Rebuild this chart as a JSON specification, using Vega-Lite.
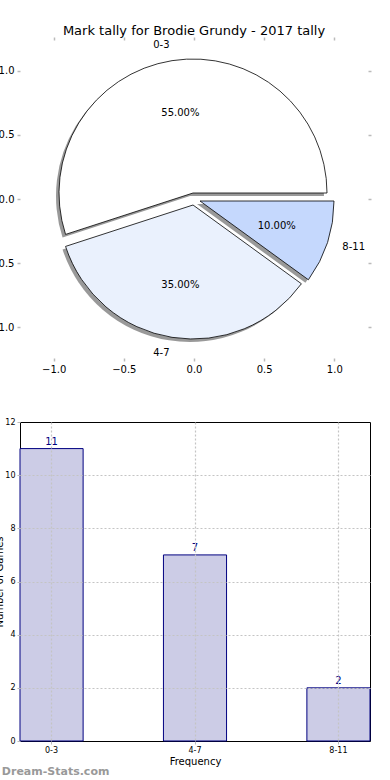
{
  "$schema": "https://vega.github.io/schema/vega-lite/v6.json",
  "padding": {"left": -11, "top": 25, "right": 0, "bottom": 0},
  "background": "white",
  "config": {"font": "DejaVu Sans", "view": {"stroke": null}},
  "datasets": {
    "tally": [
      {"range": "0-3", "count": 11, "share": 0.55},
      {"range": "4-7", "count": 7, "share": 0.35},
      {"range": "8-11", "count": 2, "share": 0.10}
    ]
  },
  "vconcat": [
    {
      "width": 348,
      "height": 318,
      "title": {"text": "Mark tally for Brodie Grundy - 2017 tally", "fontSize": 13, "fontWeight": "normal", "offset": -2},
      "data": {"name": "tally"},
      "transform": [
        {"stack": "count", "groupby": [], "sort": [{"field": "range", "order": "descending"}], "as": ["t0", "t1"]}
      ],
      "resolve": {"axis": {"x": "independent", "y": "independent"}},
      "layer": [
        {
          "mark": {"type": "point", "opacity": 0},
          "encoding": {
            "x": {"datum": 0, "type": "quantitative", "scale": {"domain": [-1.24, 1.24], "nice": false, "zero": false},
              "axis": {"orient": "bottom", "values": [-1, -0.5, 0, 0.5, 1], "format": ".1f", "domain": false, "grid": false, "tickColor": "#bbbbbb", "tickSize": 3, "tickWidth": 1.5, "labelFontSize": 10, "labelColor": "black", "labelPadding": 3, "title": null}},
            "y": {"datum": 0, "type": "quantitative", "scale": {"domain": [-1.24, 1.24], "nice": false, "zero": false},
              "axis": {"orient": "left", "values": [-1, -0.5, 0, 0.5, 1], "format": ".1f", "domain": false, "grid": false, "tickColor": "#bbbbbb", "tickSize": 3, "tickWidth": 1.5, "labelFontSize": 10, "labelColor": "black", "labelPadding": 3, "title": null}}
          }
        },
        {
          "mark": {"type": "point", "opacity": 0},
          "encoding": {
            "x": {"datum": 0, "type": "quantitative",
              "axis": {"orient": "top", "values": [-1, -0.5, 0, 0.5, 1], "domain": false, "grid": false, "labels": false, "tickColor": "#bbbbbb", "tickSize": 3, "tickWidth": 1.5, "title": null}},
            "y": {"datum": 0, "type": "quantitative",
              "axis": {"orient": "right", "values": [-1, -0.5, 0, 0.5, 1], "domain": false, "grid": false, "labels": false, "tickColor": "#bbbbbb", "tickSize": 3, "tickWidth": 1.5, "title": null}}
          }
        },
        {
          "transform": [{"filter": "datum.range == '0-3'"}],
          "mark": {"type": "arc", "radius": 134, "fill": "#808080", "opacity": 0.8, "xOffset": -4, "yOffset": -3},
          "encoding": {"theta": {"field": "t0", "type": "quantitative", "scale": {"domain": [0, 20], "range": [1.5708, 7.854]}}, "theta2": {"field": "t1"}}
        },
        {
          "transform": [{"filter": "datum.range == '4-7'"}],
          "mark": {"type": "arc", "radius": 134, "fill": "#808080", "opacity": 0.8, "xOffset": -4, "yOffset": 9},
          "encoding": {"theta": {"field": "t0", "type": "quantitative"}, "theta2": {"field": "t1"}}
        },
        {
          "transform": [{"filter": "datum.range == '8-11'"}],
          "mark": {"type": "arc", "radius": 134, "fill": "#808080", "opacity": 0.8, "xOffset": 3, "yOffset": 5},
          "encoding": {"theta": {"field": "t0", "type": "quantitative"}, "theta2": {"field": "t1"}}
        },
        {
          "transform": [{"filter": "datum.range == '0-3'"}],
          "mark": {"type": "arc", "radius": 134, "fill": "#ffffff", "stroke": "black", "strokeWidth": 0.8, "xOffset": -1, "yOffset": -6},
          "encoding": {"theta": {"field": "t0", "type": "quantitative"}, "theta2": {"field": "t1"}}
        },
        {
          "transform": [{"filter": "datum.range == '4-7'"}],
          "mark": {"type": "arc", "radius": 134, "fill": "#eaf1fd", "stroke": "black", "strokeWidth": 0.8, "xOffset": -1, "yOffset": 6},
          "encoding": {"theta": {"field": "t0", "type": "quantitative"}, "theta2": {"field": "t1"}}
        },
        {
          "transform": [{"filter": "datum.range == '8-11'"}],
          "mark": {"type": "arc", "radius": 134, "fill": "#c5d8fd", "stroke": "black", "strokeWidth": 0.8, "xOffset": 6, "yOffset": 2},
          "encoding": {"theta": {"field": "t0", "type": "quantitative"}, "theta2": {"field": "t1"}}
        },
        {
          "mark": {"type": "text", "radius": 87, "fontSize": 10, "color": "black"},
          "encoding": {
            "theta": {"field": "count", "type": "quantitative", "stack": true},
            "order": {"field": "range", "sort": "descending"},
            "text": {"field": "share", "type": "quantitative", "format": ".2%"}
          }
        },
        {
          "mark": {"type": "text", "radius": 156, "fontSize": 10, "color": "black", "align": {"expr": "datum.range == '8-11' ? 'left' : 'right'"}},
          "encoding": {
            "theta": {"field": "count", "type": "quantitative", "stack": true},
            "order": {"field": "range", "sort": "descending"},
            "text": {"field": "range", "type": "nominal"}
          }
        }
      ]
    },
    {
      "width": 350,
      "height": 319,
      "view": {"stroke": "black", "strokeWidth": 1},
      "title": {"text": "Dream-Stats.com", "orient": "bottom", "anchor": "start", "color": "#999999", "fontSize": 11, "fontWeight": "bold", "dx": 7, "offset": 0},
      "data": {"name": "tally"},
      "encoding": {
        "x": {"field": "range", "type": "nominal", "scale": {"paddingInner": 0.56, "paddingOuter": 0},
          "axis": {"title": "Frequency", "titleFontSize": 10, "titleFontWeight": "normal", "titlePadding": 2, "labelAngle": 0, "labelFontSize": 8, "labelColor": "black", "labelPadding": 2, "domain": false, "grid": true, "gridColor": "#c4c4c4", "gridDash": [2, 2], "gridWidth": 1.2, "tickColor": "#bbbbbb", "tickSize": 3, "zindex": 1}},
        "y": {"field": "count", "type": "quantitative", "scale": {"domain": [0, 12], "nice": false},
          "axis": {"title": "Number of Games", "titleFontSize": 10, "titleFontWeight": "normal", "titlePadding": 0, "values": [0, 2, 4, 6, 8, 10, 12], "labelFontSize": 8, "labelColor": "black", "labelPadding": 2, "domain": false, "grid": true, "gridColor": "#c4c4c4", "gridDash": [2, 2], "gridWidth": 1.2,
            "gridOpacity": {"condition": {"test": "datum.value == 0 || datum.value == 12", "value": 0}, "value": 1},
            "tickColor": "#bbbbbb", "tickSize": 3, "zindex": 1}}
      },
      "layer": [
        {"mark": {"type": "bar", "fill": "#ccccE6", "stroke": "#000080", "strokeWidth": 1}},
        {"mark": {"type": "text", "baseline": "bottom", "dy": -2, "color": "#000080", "fontSize": 10},
          "encoding": {"text": {"field": "count", "type": "quantitative"}}}
      ]
    }
  ],
  "spacing": 64,
  "bounds": "flush"
}
